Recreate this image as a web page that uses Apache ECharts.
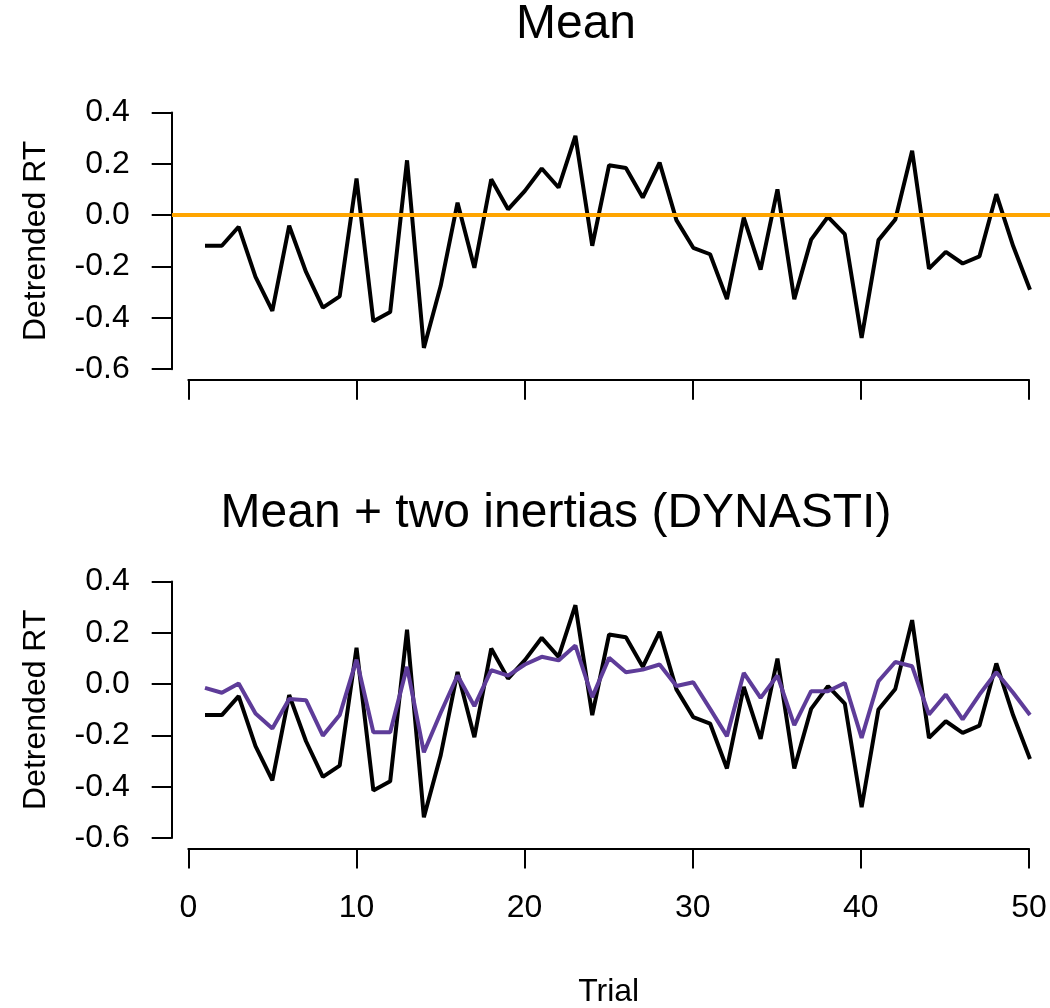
<!DOCTYPE html>
<html>
<head>
<meta charset="utf-8">
<title>Detrended RT by trial</title>
<script src="https://cdn.jsdelivr.net/npm/echarts@6/dist/echarts.min.js"></script>
<style>
  html, body { margin: 0; padding: 0; background: #ffffff; }
  #chart { width: 1050px; height: 1008px; }
</style>
</head>
<body>
<div id="chart"></div>
<script>
// Trial numbers 1..50
const trials = [1,2,3,4,5,6,7,8,9,10,11,12,13,14,15,16,17,18,19,20,21,22,23,24,25,
                26,27,28,29,30,31,32,33,34,35,36,37,38,39,40,41,42,43,44,45,46,47,48,49,50];

// Observed detrended reaction times
const observedRT = [-0.119,-0.119,-0.045,-0.240,-0.373,-0.041,-0.221,-0.360,-0.316,0.143,
                    -0.413,-0.377,0.214,-0.517,-0.275,0.049,-0.205,0.140,0.023,0.095,
                    0.182,0.108,0.309,-0.119,0.195,0.184,0.069,0.205,-0.019,-0.127,
                    -0.152,-0.327,-0.009,-0.212,0.101,-0.327,-0.095,-0.006,-0.074,-0.478,
                    -0.097,-0.017,0.251,-0.208,-0.143,-0.188,-0.160,0.082,-0.120,-0.290];

// Fitted values of the DYNASTI model (mean + two inertias)
const dynastiFit = [-0.013,-0.032,0.004,-0.113,-0.171,-0.056,-0.061,-0.199,-0.119,0.097,
                    -0.186,-0.186,0.069,-0.264,-0.110,0.035,-0.084,0.056,0.035,0.078,
                    0.108,0.094,0.152,-0.049,0.104,0.048,0.058,0.078,-0.006,0.009,
                    -0.095,-0.201,0.045,-0.052,0.035,-0.158,-0.026,-0.026,0.006,-0.208,
                    0.013,0.088,0.071,-0.117,-0.039,-0.136,-0.039,0.048,-0.032,-0.119];

// Reference level of the "Mean" model
const meanLevel = 0;

const xTicks = { min: 0, max: 50, step: 10 };
const yTicks = { min: -0.6, max: 0.4, step: 0.2 };
const panelTitles = ['Mean', 'Mean + two inertias (DYNASTI)'];
const yName = 'Detrended RT';
const xName = 'Trial';

const FONT = '"Liberation Sans", Arial, Helvetica, sans-serif';
const pairs = (ys) => trials.map((t, i) => [t, ys[i]]);

// plotting region extends 4% beyond the data/tick range on each side
const xPad = (trials[trials.length - 1] - trials[0]) * 0.04;
const yPad = (yTicks.max - yTicks.min) * 0.04;

// Panel geometry (px)
const panels = [
  { plotTop: 102.3, tickTop: 112.5 },
  { plotTop: 571.6, tickTop: 581.4 }
];
const plotLeft = 172, plotWidth = 891, plotHeight = 277.2;
const tickLeft = 188.3, tickWidth = 840.7, tickHeight = 256.7;

const grids = [], xAxes = [], yAxes = [];
panels.forEach((p, k) => {
  // data grid: full plotting region
  grids.push({ left: plotLeft, top: p.plotTop, width: plotWidth, height: plotHeight, outerBoundsMode: 'none' });
  // axis grid: spans exactly the tick range, axes pushed outward
  grids.push({ left: tickLeft, top: p.tickTop, width: tickWidth, height: tickHeight, outerBoundsMode: 'none' });

  xAxes.push({
    gridIndex: 2 * k, type: 'value', show: false,
    min: trials[0] - xPad, max: trials[trials.length - 1] + xPad
  });
  yAxes.push({
    gridIndex: 2 * k, type: 'value', show: false,
    min: yTicks.min - yPad, max: yTicks.max + yPad
  });

  xAxes.push({
    gridIndex: 2 * k + 1, type: 'value', position: 'bottom',
    min: xTicks.min, max: xTicks.max, interval: xTicks.step,
    offset: 10.5,
    axisLine: { show: true, onZero: false, lineStyle: { color: '#000', width: 2 } },
    axisTick: { show: true, inside: false, length: 20, lineStyle: { color: '#000', width: 2 } },
    splitLine: { show: false },
    axisLabel: {
      show: k === 1, color: '#000', fontFamily: FONT, fontSize: 32, margin: 44
    },
    name: k === 1 ? xName : '',
    nameLocation: 'middle', nameGap: 128,
    nameTextStyle: { color: '#000', fontFamily: FONT, fontSize: 32 }
  });
  yAxes.push({
    gridIndex: 2 * k + 1, type: 'value', position: 'left',
    min: yTicks.min, max: yTicks.max, interval: yTicks.step,
    offset: 16.6,
    axisLine: { show: true, onZero: false, lineStyle: { color: '#000', width: 2 } },
    axisTick: { show: true, inside: false, length: 20, lineStyle: { color: '#000', width: 2 } },
    splitLine: { show: false },
    axisLabel: {
      color: '#000', fontFamily: FONT, fontSize: 32, margin: 42,
      formatter: (v) => v.toFixed(1)
    },
    name: yName, nameLocation: 'middle', nameGap: 120, nameRotate: 90,
    nameTextStyle: { color: '#000', fontFamily: FONT, fontSize: 32 }
  });
});

const lineBase = { type: 'line', showSymbol: false, symbol: 'none', silent: true, clip: false };

const option = {
  backgroundColor: '#ffffff',
  animation: false,
  grid: grids,
  xAxis: xAxes,
  yAxis: yAxes,
  graphic: [
    { type: 'text', x: 576, y: 25,
      style: { text: panelTitles[0], font: '48px ' + FONT, fill: '#000', textAlign: 'center', textVerticalAlign: 'middle' } },
    { type: 'text', x: 556, y: 514,
      style: { text: panelTitles[1], font: '48px ' + FONT, fill: '#000', textAlign: 'center', textVerticalAlign: 'middle' } }
  ],
  series: [
    Object.assign({}, lineBase, {
      name: 'Observed', xAxisIndex: 0, yAxisIndex: 0,
      data: pairs(observedRT),
      lineStyle: { color: '#000000', width: 4 },
      markLine: {
        silent: true, symbol: ['none', 'none'], z: 10,
        label: { show: false },
        lineStyle: { color: '#FFA500', width: 4, type: 'solid' },
        emphasis: { disabled: true },
        data: [{ yAxis: meanLevel }]
      }
    }),
    Object.assign({}, lineBase, {
      name: 'Observed', xAxisIndex: 2, yAxisIndex: 2,
      data: pairs(observedRT),
      lineStyle: { color: '#000000', width: 4 }
    }),
    Object.assign({}, lineBase, {
      name: 'DYNASTI', xAxisIndex: 2, yAxisIndex: 2,
      data: pairs(dynastiFit),
      lineStyle: { color: '#5E3C99', width: 4 }
    })
  ]
};

const chart = echarts.init(document.getElementById('chart'), null, { renderer: 'canvas' });
chart.setOption(option);
</script>
</body>
</html>
